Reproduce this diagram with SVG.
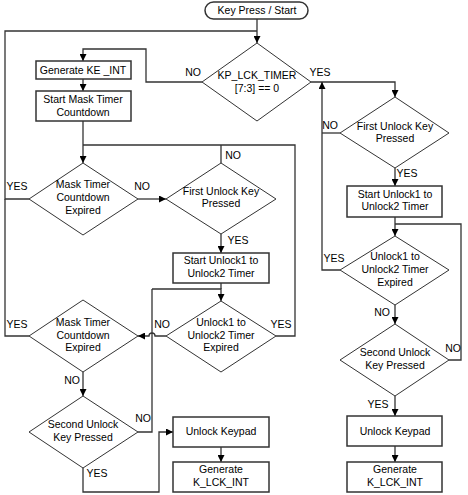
<svg xmlns="http://www.w3.org/2000/svg" width="468" height="495" viewBox="0 0 468 495">
<defs>
<marker id="ah" viewBox="0 0 10 10" refX="10" refY="5" markerWidth="7" markerHeight="7" markerUnits="userSpaceOnUse" orient="auto">
<path d="M0,0 L10,5 L0,10 Z" fill="#000"/>
</marker>
<style>
.box{fill:#fff;stroke:#333;stroke-width:1.5}
.dia{fill:#fff;stroke:#333;stroke-width:1}
.ln{fill:none;stroke:#333;stroke-width:1.3}
.arr{fill:none;stroke:#333;stroke-width:1.3;marker-end:url(#ah)}
text{font-family:"Liberation Sans",Arial,sans-serif;font-size:10.5px;fill:#000}
.c{text-anchor:middle}
</style>
</defs>
<rect width="468" height="495" fill="#fff"/>
<g id="connectors">
<path class="arr" d="M257,19 V43"/>
<path class="ln" d="M29,199 H5 V31 H257"/>
<path class="ln" d="M29,336 H5 V199"/>
<path class="arr" d="M202,82 H146 V49 H83 V61"/>
<path class="arr" d="M83,79 V91"/>
<path class="arr" d="M83,121 V163"/>
<path class="ln" d="M83,145 H295 V336 H276"/>
<path class="ln" d="M221,163 V145"/>
<path class="arr" d="M138,199 H166"/>
<path class="arr" d="M221,234 V253"/>
<path class="ln" d="M221,283 V289"/>
<path class="arr" d="M152,289 H221 V301"/>
<path class="ln" d="M138,432 H152 V289"/>
<path class="arr" d="M166,336 H155 A3,3 0 0 0 149,336 H138"/>
<path class="arr" d="M83,372 V396"/>
<path class="arr" d="M83,468 V492 H159 V432 H173"/>
<path class="arr" d="M221,447 V462"/>
<path class="arr" d="M311,82 H395 V97"/>
<path class="arr" d="M340,270 H322 V82"/>
<path class="ln" d="M340,133 H322"/>
<path class="arr" d="M395,168 V186"/>
<path class="arr" d="M395,217 V236"/>
<path class="ln" d="M449,360 H461 V224 H395"/>
<path class="arr" d="M395,305 V324"/>
<path class="arr" d="M395,396 V416"/>
<path class="arr" d="M395,446 V462"/>
</g>
<g id="start">
<rect x="205" y="2" width="103" height="17" rx="8.5" class="box"/>
<text x="257" y="14" class="c">Key Press / Start</text>
</g>
<g id="kp_lck_timer">
<polygon class="dia" points="257,43 311,82 257,121 202,82"/>
<text x="257" y="79" class="c">KP_LCK_TIMER</text>
<text x="257" y="92" class="c">[7:3] == 0</text>
<text x="193" y="76" class="c">NO</text>
<text x="320" y="76" class="c">YES</text>
</g>
<g id="generate_ke_int">
<rect x="36" y="61" width="95" height="18" class="box"/>
<text x="83" y="74" class="c">Generate KE _INT</text>
</g>
<g id="start_mask_timer">
<rect x="36" y="91" width="95" height="30" class="box"/>
<text x="83" y="103" class="c">Start Mask Timer</text>
<text x="83" y="116" class="c">Countdown</text>
</g>
<g id="mask_timer_1">
<polygon class="dia" points="83,163 138,199 83,235 29,199"/>
<text x="83" y="188" class="c">Mask Timer</text>
<text x="83" y="201" class="c">Countdown</text>
<text x="83" y="214" class="c">Expired</text>
<text x="17" y="190" class="c">YES</text>
<text x="142" y="190" class="c">NO</text>
</g>
<g id="first_unlock_1">
<polygon class="dia" points="221,163 276,199 221,234 166,199"/>
<text x="221" y="195" class="c">First Unlock Key</text>
<text x="221" y="207" class="c">Pressed</text>
<text x="233" y="159" class="c">NO</text>
<text x="238" y="244" class="c">YES</text>
</g>
<g id="start_unlock_1">
<rect x="173" y="253" width="96" height="30" class="box"/>
<text x="221" y="264" class="c">Start Unlock1 to</text>
<text x="221" y="277" class="c">Unlock2 Timer</text>
</g>
<g id="unlock_expired_1">
<polygon class="dia" points="221,301 276,336 221,372 166,336"/>
<text x="221" y="326" class="c">Unlock1 to</text>
<text x="221" y="339" class="c">Unlock2 Timer</text>
<text x="221" y="351" class="c">Expired</text>
<text x="281" y="328" class="c">YES</text>
<text x="162" y="328" class="c">NO</text>
</g>
<g id="mask_timer_2">
<polygon class="dia" points="83,300 138,336 83,372 29,336"/>
<text x="83" y="326" class="c">Mask Timer</text>
<text x="83" y="339" class="c">Countdown</text>
<text x="83" y="351" class="c">Expired</text>
<text x="17" y="328" class="c">YES</text>
<text x="72" y="384" class="c">NO</text>
</g>
<g id="second_unlock_1">
<polygon class="dia" points="83,396 138,432 83,468 29,432"/>
<text x="83" y="428" class="c">Second Unlock</text>
<text x="83" y="441" class="c">Key Pressed</text>
<text x="143" y="422" class="c">NO</text>
<text x="97" y="477" class="c">YES</text>
</g>
<g id="unlock_keypad_1">
<rect x="173" y="417" width="96" height="30" class="box"/>
<text x="221" y="435" class="c">Unlock Keypad</text>
</g>
<g id="generate_k_lck_int_1">
<rect x="173" y="462" width="96" height="30" class="box"/>
<text x="221" y="473" class="c">Generate</text>
<text x="221" y="486" class="c">K_LCK_INT</text>
</g>
<g id="first_unlock_2">
<polygon class="dia" points="395,97 449,133 395,168 340,133"/>
<text x="395" y="130" class="c">First Unlock Key</text>
<text x="395" y="142" class="c">Pressed</text>
<text x="330" y="129" class="c">NO</text>
<text x="407" y="177" class="c">YES</text>
</g>
<g id="start_unlock_2">
<rect x="347" y="186" width="95" height="31" class="box"/>
<text x="395" y="198" class="c">Start Unlock1 to</text>
<text x="395" y="210" class="c">Unlock2 Timer</text>
</g>
<g id="unlock_expired_2">
<polygon class="dia" points="395,236 449,270 395,305 340,270"/>
<text x="395" y="260" class="c">Unlock1 to</text>
<text x="395" y="273" class="c">Unlock2 Timer</text>
<text x="395" y="286" class="c">Expired</text>
<text x="334" y="262" class="c">YES</text>
<text x="382" y="316" class="c">NO</text>
</g>
<g id="second_unlock_2">
<polygon class="dia" points="395,324 449,360 395,396 340,360"/>
<text x="395" y="356" class="c">Second Unlock</text>
<text x="395" y="369" class="c">Key Pressed</text>
<text x="453" y="352" class="c">NO</text>
<text x="378" y="408" class="c">YES</text>
</g>
<g id="unlock_keypad_2">
<rect x="347" y="416" width="95" height="30" class="box"/>
<text x="395" y="435" class="c">Unlock Keypad</text>
</g>
<g id="generate_k_lck_int_2">
<rect x="347" y="462" width="95" height="30" class="box"/>
<text x="395" y="473" class="c">Generate</text>
<text x="395" y="486" class="c">K_LCK_INT</text>
</g>
</svg>
